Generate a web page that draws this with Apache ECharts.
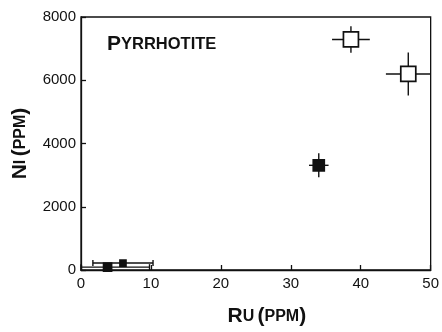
<!DOCTYPE html>
<html>
<head>
<meta charset="utf-8">
<script src="https://cdn.jsdelivr.net/npm/echarts@6/dist/echarts.min.js"></script>
<style>
  html, body { margin: 0; padding: 0; background: #fff; }
  #chart { width: 442px; height: 332px; }
</style>
</head>
<body>
<div id="chart"></div>
<script>
// Ru (ppm) vs Ni (ppm) in pyrrhotite
const ruVals = [3.8, 6.0, 34.0, 38.6, 46.8];
const niVals = [90, 220, 3310, 7290, 6200];
const ruErr = [6.0, 4.3, 1.4, 2.7, 3.2];
const niErr = [0, 0, 380, 420, 680];
const filled = [true, true, true, false, false];

// marker look per point (kept apart from the data)
const markerSize = [8, 6, 11, 15, 15];
const hasCaps = [true, true, false, false, false];

const FONT = 'Liberation Sans, Arial, Helvetica, sans-serif';

const chart = echarts.init(document.getElementById('chart'));

const points = ruVals.map((x, i) => [x, niVals[i], ruErr[i], niErr[i], i]);

function renderErr(params, api) {
  const x = api.value(0), y = api.value(1);
  const ex = api.value(2), ey = api.value(3);
  const i = api.value(4);
  const left = api.coord([Math.max(0, x - ex), y]);
  const right = api.coord([Math.min(50, x + ex), y]);
  const top = api.coord([x, y + ey]);
  const bot = api.coord([x, Math.max(0, y - ey)]);
  const style = { stroke: '#111', lineWidth: 1.4 };
  const kids = [
    { type: 'line', shape: { x1: left[0], y1: left[1], x2: right[0], y2: right[1] }, style },
  ];
  if (ey > 0) {
    kids.push({ type: 'line', shape: { x1: top[0], y1: top[1], x2: bot[0], y2: bot[1] }, style });
  }
  if (hasCaps[i]) {
    kids.push({ type: 'line', shape: { x1: left[0], y1: left[1] - 3, x2: left[0], y2: left[1] + 3 }, style });
    kids.push({ type: 'line', shape: { x1: right[0], y1: right[1] - 3, x2: right[0], y2: right[1] + 3 }, style });
  }
  const c = api.coord([x, y]);
  const s = markerSize[i];
  kids.push({
    type: 'rect',
    shape: { x: c[0] - s / 2, y: c[1] - s / 2, width: s, height: s },
    style: { fill: filled[i] ? '#111' : '#fff', stroke: '#111', lineWidth: 1.7 },
  });
  return { type: 'group', children: kids };
}

const nameRich = {
  big: { fontFamily: FONT, fontWeight: 'bold', fontSize: 21, color: '#111' },
  sm: { fontFamily: FONT, fontWeight: 'bold', fontSize: 16, color: '#111' },
  paren: { fontFamily: FONT, fontWeight: 'bold', fontSize: 21, color: '#111' },
};

const option = {
  animation: false,
  backgroundColor: '#fff',
  grid: { left: 81, right: 7, top: 17, bottom: 59, show: true, borderColor: '#111', borderWidth: 1.3 },
  xAxis: {
    type: 'value', min: 0, max: 50, interval: 10,
    name: '{big|R}{sm|U} {paren|(}{sm|PPM}{paren|)}',
    nameLocation: 'middle', nameGap: 36,
    nameTextStyle: { rich: nameRich, padding: [0, 0, 0, 22] },
    axisLine: { lineStyle: { color: '#111', width: 1.3 } },
    axisTick: { inside: true, length: 5, lineStyle: { color: '#111', width: 1.3 } },
    axisLabel: { fontFamily: FONT, fontSize: 15, color: '#111', margin: 6 },
    splitLine: { show: false },
  },
  yAxis: {
    type: 'value', min: 0, max: 8000, interval: 2000,
    name: '{big|N}{sm|I} {paren|(}{sm|PPM}{paren|)}',
    nameLocation: 'middle', nameGap: 50, nameRotate: 90,
    nameTextStyle: { rich: nameRich },
    axisLine: { lineStyle: { color: '#111', width: 1.3 } },
    axisTick: { inside: true, length: 5, lineStyle: { color: '#111', width: 1.3 } },
    axisLabel: { fontFamily: FONT, fontSize: 15, color: '#111', margin: 5, formatter: (v) => String(v) },
    splitLine: { show: false },
  },
  graphic: [{
    type: 'text', left: 107, top: 34,
    style: {
      text: '{big|P}{sm|YRRHOTITE}',
      rich: {
        big: { fontFamily: FONT, fontWeight: 'bold', fontSize: 21, fill: '#111' },
        sm: { fontFamily: FONT, fontWeight: 'bold', fontSize: 16.5, fill: '#111' },
      },
    },
  }],
  series: [{
    type: 'custom',
    renderItem: renderErr,
    data: points,
    encode: { x: 0, y: 1 },
    clip: false,
  }],
};

chart.setOption(option);
</script>
</body>
</html>
